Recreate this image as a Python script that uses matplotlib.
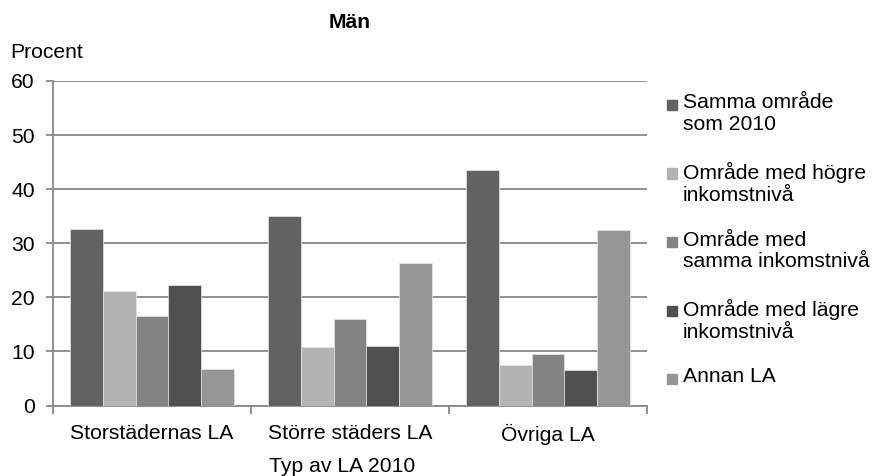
import numpy as np
import matplotlib
matplotlib.use("Agg")
import matplotlib.pyplot as plt
from matplotlib.patches import Rectangle

plt.rcParams['font.family'] = ['Liberation Sans', 'DejaVu Sans']

# kategorier och serier (procent)
kategorier = ["Storstädernas LA", "Större städers LA", "Övriga LA"]
serier = ["Samma område\nsom 2010",
          "Område med högre\ninkomstnivå",
          "Område med\nsamma inkomstnivå",
          "Område med lägre\ninkomstnivå",
          "Annan LA"]
samma_omrade = [32.6, 35.1, 43.5]
hogre_inkomst = [21.2, 10.9, 7.4]
samma_inkomst = [16.5, 16.0, 9.5]
lagre_inkomst = [22.3, 11.0, 6.6]
annan_la = [6.7, 26.4, 32.5]
varden = [samma_omrade, hogre_inkomst, samma_inkomst, lagre_inkomst, annan_la]
farger = ["#626262", "#b3b3b3", "#838383", "#505050", "#969696"]

fs = 15.2
grid_farg = "#888888"

fig = plt.figure(figsize=(8.72, 4.76), dpi=100)
ax = fig.add_axes([53 / 872, 1 - 405.5 / 476, 594 / 872, 324.5 / 476])

x = np.arange(len(kategorier))
w = 0.165
for i, (v, f) in enumerate(zip(varden, farger)):
    ax.bar(x + (i - 2) * w, v, width=w, color=f, edgecolor="#e6e6e6",
           linewidth=0.5, zorder=3)

ax.set_xlim(-0.5, 2.5)
ax.set_ylim(0, 60)
ax.set_yticks(range(0, 61, 10))
ax.yaxis.grid(True, color=grid_farg, linewidth=1.3, zorder=0)
ax.set_axisbelow(True)

for s in ["top", "right"]:
    ax.spines[s].set_visible(False)
for s in ["left", "bottom"]:
    ax.spines[s].set_color(grid_farg)
    ax.spines[s].set_linewidth(1.3)

ax.tick_params(axis="y", length=5, width=1.3, color=grid_farg, pad=8,
               labelsize=fs)
# streck mellan kategorierna, etiketter i mitten
ax.set_xticks([-0.5, 0.5, 1.5, 2.5])
ax.set_xticklabels([])
ax.set_xticks(x, minor=True)
ax.set_xticklabels(kategorier, minor=True, fontsize=fs)
ax.tick_params(axis="x", which="major", length=6, width=1.3, color=grid_farg)
ax.tick_params(axis="x", which="minor", length=0, pad=13)

fig.text(350 / 872, 1 - 23 / 476, "Män", ha="center", va="center",
         fontsize=fs, fontweight="bold")
fig.text(10 / 872, 1 - 53 / 476, "Procent", ha="left", va="center", fontsize=fs)
fig.text(342 / 872, 1 - 466 / 476, "Typ av LA 2010", ha="center", va="center",
         fontsize=fs)

# förklaring till höger
for i, (namn, f) in enumerate(zip(serier, farger)):
    y = 105 + i * 68.5
    fig.patches.append(Rectangle((667 / 872, 1 - (y + 5) / 476), 10 / 872, 10 / 476,
                                 transform=fig.transFigure, color=f))
    fig.text(683 / 872, 1 - (y - 11.5) / 476, namn, ha="left", va="top",
             fontsize=fs, linespacing=1.18)

fig.savefig("out.png", dpi=100)
